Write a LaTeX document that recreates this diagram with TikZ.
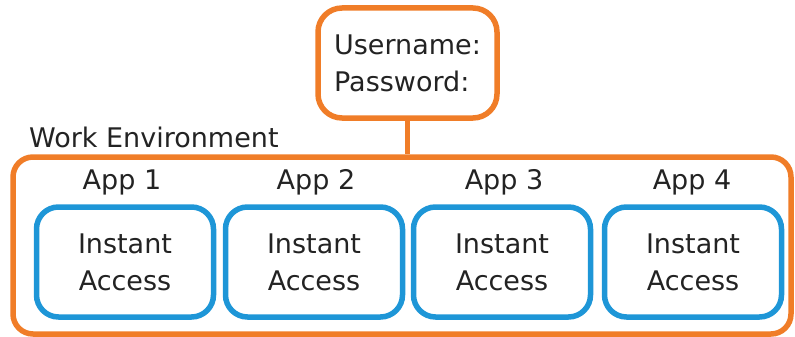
\documentclass[tikz,border=0pt]{standalone}
\usepackage{fontspec}
\setmainfont{DejaVu Sans}
\definecolor{orng}{RGB}{240,125,40}
\definecolor{blu}{RGB}{30,150,215}
\definecolor{txt}{RGB}{35,35,35}
\tikzset{
  bigfont/.style={font=\fontsize{27}{37}\selectfont, text=txt},
  loginbox/.style={draw=orng, line width=5.5pt, rounded corners=24pt, minimum width=179pt, minimum height=110pt, align=left, bigfont, inner sep=0pt},
  envbox/.style={draw=orng, line width=5.5pt, rounded corners=20pt, minimum width=778pt, minimum height=177pt, inner sep=0pt},
  appbox/.style={draw=blu, line width=5.5pt, rounded corners=22pt, minimum width=177pt, minimum height=110pt, align=center, bigfont, inner sep=0pt},
  applabel/.style={bigfont, inner sep=0pt},
  conn/.style={draw=orng, line width=5.5pt}
}
\begin{document}
\begin{tikzpicture}[x=1pt,y=-1pt]
\useasboundingbox (0,0) rectangle (795,337);
\node[envbox] (env) at (402,245.5) {};
\node[loginbox] (login) at (407.5,63) {Username:\\Password:};
\draw[conn] (login.south) -- (login.south |- env.north);
\node[applabel, anchor=west] (wlabel) at (29,137) {Work Environment};
\node[appbox] (a1) at (125,262) {Instant\\Access};
\node[appbox] (a2) at (314,262) {Instant\\Access};
\node[appbox] (a3) at (502,262) {Instant\\Access};
\node[appbox] (a4) at (693,262) {Instant\\Access};
\node[applabel] (l1) at (122,182) {App 1};
\node[applabel] (l2) at (316,182) {App 2};
\node[applabel] (l3) at (504,182) {App 3};
\node[applabel] (l4) at (692,182) {App 4};
\end{tikzpicture}
\end{document}
